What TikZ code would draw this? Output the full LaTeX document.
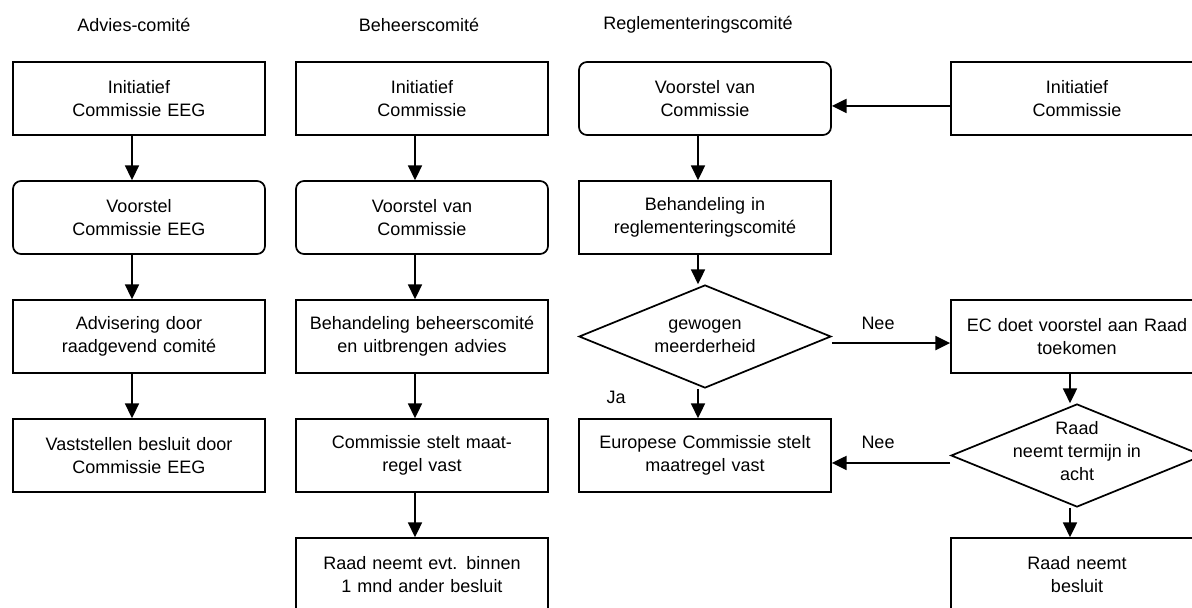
\documentclass[tikz,border=0pt]{standalone}
\usepackage{fontspec}
\setmainfont{Liberation Sans}
\usetikzlibrary{shapes.geometric,arrows.meta}

\begin{document}
\begin{tikzpicture}[x=0.75pt,y=-0.75pt,
    blok/.style={draw,line width=1.3pt,text width=189pt,inner xsep=0pt,minimum height=54.75pt,align=center,font=\fontsize{13.5}{17.25}\selectfont},
    rblok/.style={blok,rounded corners=6pt},
    ruit/.style={draw,line width=1.3pt,diamond,minimum width=189pt,minimum height=77.25pt,inner sep=0pt},
    tekst/.style={align=center,font=\fontsize{13.5}{17.25}\selectfont},
    pijl/.style={-{Triangle[length=11pt,width=10.5pt]},line width=1.3pt}]
    \useasboundingbox (0,0) rectangle (1192,607);
    \clip (0,0) rectangle (1192,607);
    % titels
    \node[tekst] (tadv) at (134,25) {Advies-comité};
    \node[tekst] (tbeh) at (419,25) {Beheerscomité};
    \node[tekst] (treg) at (698,25) {Reglementeringscomité};
    % advies
    \node[blok] (a1) at (139,98.5) {Initiatief\\Commissie EEG};
    \node[rblok] (a2) at (139,217.5) {Voorstel\\Commissie EEG};
    \node[blok] (a3) at (139,336.5) {Advisering door\\raadgevend comité};
    \node[blok] (a4) at (139,455.5) {Vaststellen besluit door\\Commissie EEG};
    % beheer
    \node[blok] (b1) at (422,98.5) {Initiatief\\Commissie};
    \node[rblok] (b2) at (422,217.5) {Voorstel van\\Commissie};
    \node[blok] (b3) at (422,336.5) {Behandeling beheerscomité\\en uitbrengen advies};
    \node[blok] (b4) at (422,455.5) {Commissie stelt maat-\\regel vast};
    \node[blok] (b5) at (422,574.5) {Raad neemt evt. binnen\\1 mnd ander besluit};
    % reglementering
    \node[rblok] (r1) at (705,98.5) {Voorstel van\\Commissie};
    \node[blok] (r2) at (705,217.5) {Behandeling in\\reglementeringscomité};
    \node[ruit] (r3) at (705,336.5) {};
    \node[tekst] (r3t) at (r3) {gewogen\\meerderheid};
    \node[blok] (r4) at (705,455.5) {Europese Commissie stelt\\maatregel vast};
    \node[blok] (e1) at (1077,98.5) {Initiatief\\Commissie};
    \node[blok] (e2) at (1077,336.5) {EC doet voorstel aan Raad\\toekomen};
    \node[ruit] (e3) at (1077,455.5) {};
    \node[tekst] (e3t) at (1077,451) {Raad\\neemt termijn in\\acht};
    \node[blok] (e4) at (1077,574.5) {Raad neemt\\besluit};
    \foreach \s/\t in {a1/a2,a2/a3,a3/a4,b1/b2,b2/b3,b3/b4,b4/b5,r1/r2,r2/r3,r3/r4,e2/e3,e3/e4}
    {
    \draw[pijl] ([xshift=-5.25pt]\s.south) -- ([xshift=-5.25pt]\t.north);
    }
    \draw[pijl] ([yshift=-5.6pt]e1.west) -- ([yshift=-5.6pt]r1.east);
    \draw[pijl] ([yshift=-4.9pt]r3.east) -- ([yshift=-4.9pt]e2.west);
    \draw[pijl] ([yshift=-5.6pt]e3.west) -- ([yshift=-5.6pt]r4.east);
    \node[tekst] (nee1) at (878,323) {Nee};
    \node[tekst] (nee2) at (878,442) {Nee};
    \node[tekst] (ja) at (616,397) {Ja};
\end{tikzpicture}
\end{document}
